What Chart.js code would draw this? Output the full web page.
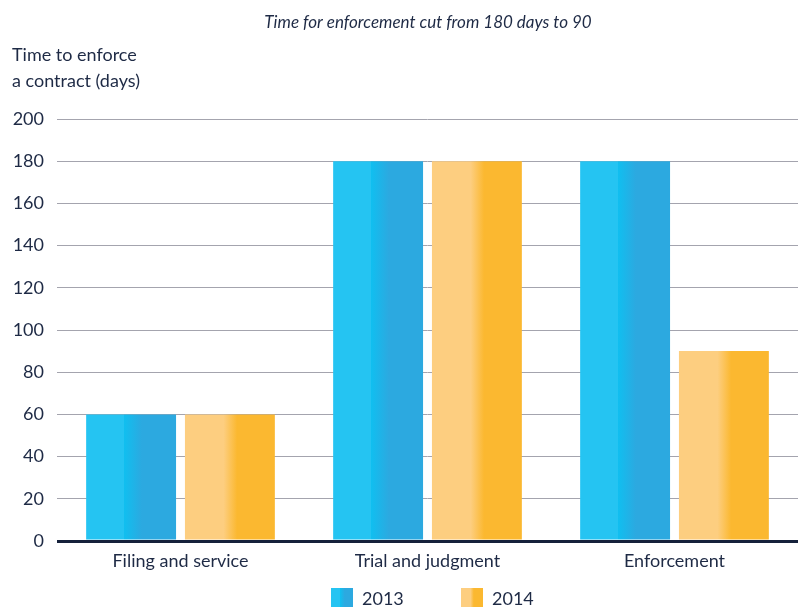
<!DOCTYPE html>
<html lang="en">
<head>
    <meta charset="UTF-8">
    <title>Time to enforce a contract</title>
    <script src="https://cdn.jsdelivr.net/npm/chart.js"></script>
    <style>
        html, body { margin: 0; padding: 0; background: #fff; }
        #wrap { width: 798px; height: 607px; position: relative; overflow: hidden; }
    </style>
</head>
<body>
    <div id="wrap"><canvas id="chart" width="798" height="607"></canvas></div>
    <script>
        const categories = ['Filing and service', 'Trial and judgment', 'Enforcement'];
        const days2013 = [60, 180, 180];
        const days2014 = [60, 180, 90];
        const seriesLabels = ['2013', '2014'];
        const yTicks = [0, 20, 40, 60, 80, 100, 120, 140, 160, 180, 200];

        const titleText = 'Time for enforcement cut from 180 days to 90';
        const yTitle = ['Time to enforce', 'a contract (days)'];
        const navy = '#1e2a45';
        const fontFamily = 'Lato, "Open Sans", sans-serif';

        // stops for the two-tone bar gradient
        const stops = [
            [[0, '#25c4f2'], [0.42, '#25c4f2'], [0.42, '#10bff0'], [0.62, '#2ca9e0'], [1, '#2ca9e0']],
            [[0, '#fdce80'], [0.43, '#fdce80'], [0.58, '#fbb830'], [1, '#fbb830']]
        ];

        function makeGradient(ctx2d, x0, x1, dsIndex) {
            const g = ctx2d.createLinearGradient(x0, 0, x1, 0);
            stops[dsIndex].forEach(s => g.addColorStop(s[0], s[1]));
            return g;
        }

        // give each bar its own horizontal gradient once positions are known
        const gradientPlugin = {
            id: 'gradientPlugin',
            beforeDatasetsDraw(chart) {
                chart.data.datasets.forEach((ds, i) => {
                    chart.getDatasetMeta(i).data.forEach(el => {
                        const x0 = el.x - el.width / 2;
                        el.options.backgroundColor = makeGradient(chart.ctx, x0, x0 + el.width, i);
                    });
                });
            }
        };

        const textPlugin = {
            id: 'textPlugin',
            afterDraw(chart) {
                const c = chart.ctx;
                c.save();
                c.fillStyle = navy;
                c.textBaseline = 'alphabetic';

                c.font = 'italic 17px ' + fontFamily;
                c.textAlign = 'center';
                c.fillText(titleText, 428, 28);

                c.font = '18px ' + fontFamily;
                c.textAlign = 'left';
                c.fillText(yTitle[0], 12, 61);
                c.fillText(yTitle[1], 12, 87);

                // legend
                [331, 461].forEach((x, i) => {
                    c.fillStyle = makeGradient(c, x, x + 22, i);
                    c.fillRect(x, 588, 22, 22);
                    c.fillStyle = navy;
                    c.fillText(seriesLabels[i], x + 31, 605);
                });
                c.restore();
            }
        };

        // scriptable colour keeps each bar's options object separate
        const baseColor = ctx => stops[ctx.datasetIndex][0][1];

        new Chart(document.getElementById('chart'), {
            type: 'bar',
            data: {
                labels: categories,
                datasets: [
                    { label: seriesLabels[0], data: days2013, backgroundColor: baseColor },
                    { label: seriesLabels[1], data: days2014, backgroundColor: baseColor }
                ]
            },
            options: {
                responsive: false,
                animation: false,
                layout: { padding: { top: 119, right: 0, left: 0, bottom: 0 } },
                datasets: { bar: { categoryPercentage: 0.80, barPercentage: 0.91, borderWidth: 0 } },
                plugins: {
                    legend: { display: false },
                    title: { display: false },
                    tooltip: { enabled: false }
                },
                scales: {
                    x: {
                        grid: { display: false },
                        border: { display: false },
                        ticks: { color: navy, font: { family: fontFamily, size: 18 }, padding: 1 },
                        afterFit(scale) { scale.height = 66; }
                    },
                    y: {
                        min: 0,
                        max: 200,
                        afterBuildTicks(scale) { scale.ticks = yTicks.map(v => ({ value: v })); },
                        grid: {
                            drawTicks: false,
                            color: ctx => ctx.tick && ctx.tick.value === 0 ? '#15213b' : '#a4a4ae',
                            lineWidth: ctx => ctx.tick && ctx.tick.value === 0 ? 3 : 1
                        },
                        border: { display: false },
                        ticks: { color: navy, font: { family: fontFamily, size: 18 }, padding: 13 },
                        afterFit(scale) { scale.width = 57; }
                    }
                }
            },
            plugins: [gradientPlugin, textPlugin]
        });
    </script>
</body>
</html>
